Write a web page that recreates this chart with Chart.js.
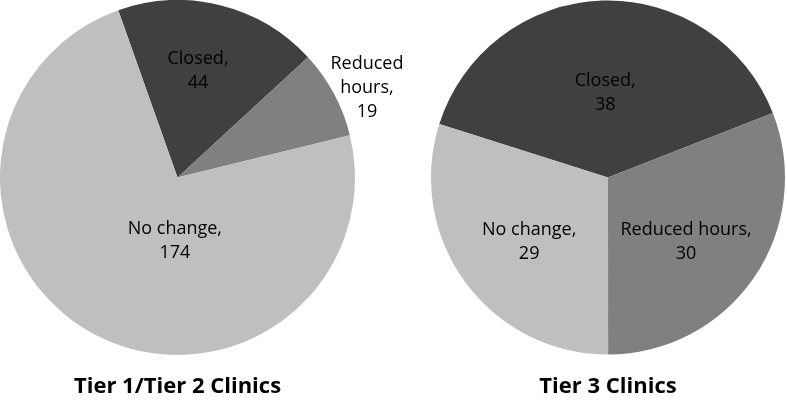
<!DOCTYPE html>
<html>
<head>
<meta charset="utf-8">
<script src="https://cdn.jsdelivr.net/npm/chart.js@4"></script>
<style>
  body { margin: 0; background: #fff; }
  #wrap { position: relative; width: 787px; height: 402px; }
  canvas { position: absolute; top: 0; }
</style>
</head>
<body>
<div id="wrap">
  <canvas id="leftPie" width="425" height="402" style="left:0"></canvas>
  <canvas id="rightPie" width="354" height="402" style="left:431px"></canvas>
</div>
<script>
const categories = ['Closed', 'Reduced hours', 'No change'];
const tier12Values = [44, 19, 174];
const tier3Values = [38, 30, 29];
const chartTitles = ['Tier 1/Tier 2 Clinics', 'Tier 3 Clinics'];

const sliceColors = ['#404040', '#808080', '#bfbfbf'];

// where each slice label sits: fraction of radius, angle nudge (deg), split name into words
const leftLabelSpots = [
  { r: 0.61, nudge: -3, split: false },
  { r: 1.18, nudge: 3, split: true },
  { r: 0.36, nudge: -26, split: false }
];
const rightLabelSpots = [
  { r: 0.48, nudge: 0, split: false },
  { r: 0.57, nudge: 5, split: false },
  { r: 0.575, nudge: -3, split: false }
];

const sliceLabels = {
  id: 'sliceLabels',
  afterDatasetsDraw(chart, args, opts) {
    const ctx = chart.ctx;
    const meta = chart.getDatasetMeta(0);
    const values = chart.data.datasets[0].data;
    ctx.save();
    ctx.font = '18px "Open Sans"';
    ctx.fillStyle = '#000';
    ctx.textAlign = 'center';
    ctx.textBaseline = 'middle';
    meta.data.forEach((arc, i) => {
      const p = arc.getProps(['x', 'y', 'startAngle', 'endAngle', 'outerRadius'], true);
      const spot = opts.spots[i];
      const mid = (p.startAngle + p.endAngle) / 2 + spot.nudge * Math.PI / 180;
      const cx = p.x + Math.cos(mid) * p.outerRadius * spot.r;
      const cy = p.y + Math.sin(mid) * p.outerRadius * spot.r;
      const name = chart.data.labels[i];
      let lines = spot.split ? name.split(' ') : [name];
      lines[lines.length - 1] += ',';
      lines.push(String(values[i]));
      const lh = 24;
      lines.forEach((t, k) => {
        ctx.fillText(t, cx, cy + (k - (lines.length - 1) / 2) * lh);
      });
    });
    ctx.restore();
  }
};

function makePie(id, values, title, rotation, spots, padRight) {
  new Chart(document.getElementById(id), {
    type: 'pie',
    data: {
      labels: categories,
      datasets: [{
        data: values,
        backgroundColor: sliceColors,
        borderWidth: 0
      }]
    },
    options: {
      responsive: false,
      animation: false,
      rotation: rotation,
      layout: { padding: { right: padRight } },
      plugins: {
        legend: { display: false },
        tooltip: { enabled: false },
        title: {
          display: true,
          position: 'bottom',
          text: title,
          color: '#000',
          font: { family: '"Open Sans"', size: 22, weight: 'bold' },
          padding: { top: 18.6, bottom: 2 }
        },
        sliceLabels: { spots: spots }
      }
    },
    plugins: [sliceLabels]
  });
}

makePie('leftPie', tier12Values, chartTitles[0], -19.5, leftLabelSpots, 70);
makePie('rightPie', tier3Values, chartTitles[1], -72.4, rightLabelSpots, 0);
</script>
</body>
</html>
